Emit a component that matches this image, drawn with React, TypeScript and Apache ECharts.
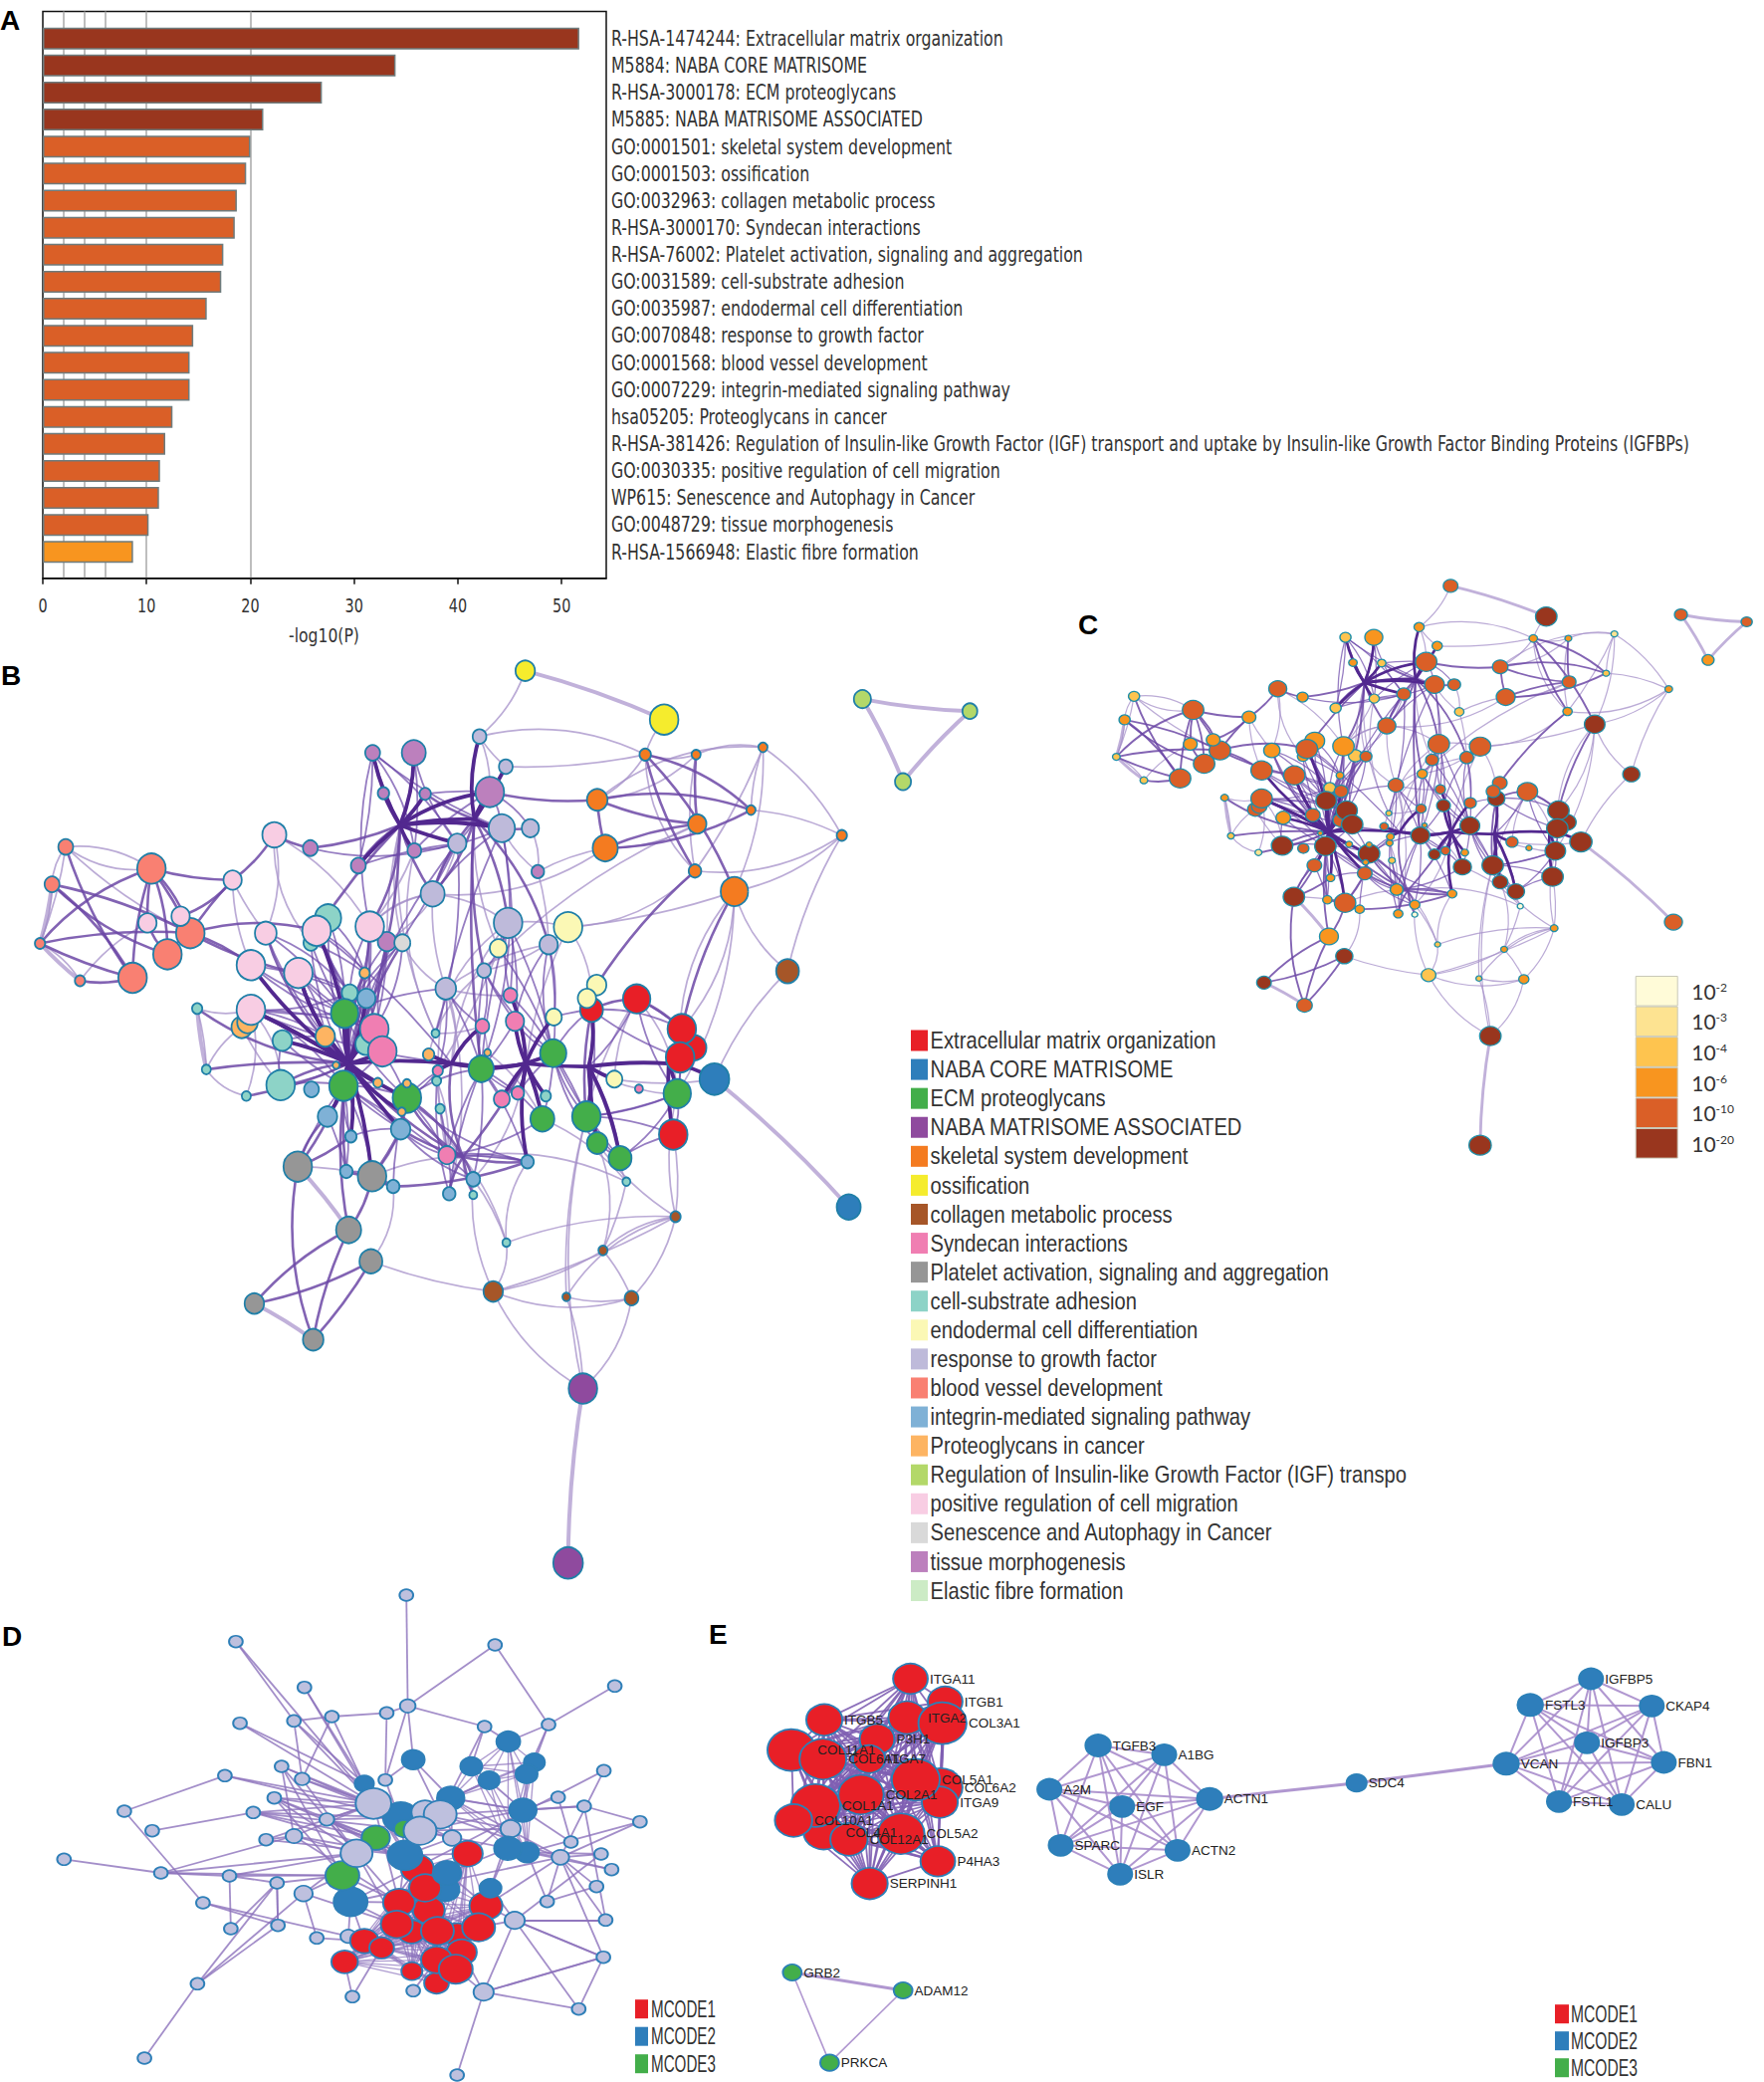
import React, { useEffect, useRef } from "react";
import * as echarts from "echarts";

const W = 1772;
const H = 2091;

// ---------- Panel A ----------
const terms = [
  "R-HSA-1474244: Extracellular matrix organization",
  "M5884: NABA CORE MATRISOME",
  "R-HSA-3000178: ECM proteoglycans",
  "M5885: NABA MATRISOME ASSOCIATED",
  "GO:0001501: skeletal system development",
  "GO:0001503: ossification",
  "GO:0032963: collagen metabolic process",
  "R-HSA-3000170: Syndecan interactions",
  "R-HSA-76002: Platelet activation, signaling and aggregation",
  "GO:0031589: cell-substrate adhesion",
  "GO:0035987: endodermal cell differentiation",
  "GO:0070848: response to growth factor",
  "GO:0001568: blood vessel development",
  "GO:0007229: integrin-mediated signaling pathway",
  "hsa05205: Proteoglycans in cancer",
  "R-HSA-381426: Regulation of Insulin-like Growth Factor (IGF) transport and uptake by Insulin-like Growth Factor Binding Proteins (IGFBPs)",
  "GO:0030335: positive regulation of cell migration",
  "WP615: Senescence and Autophagy in Cancer",
  "GO:0048729: tissue morphogenesis",
  "R-HSA-1566948: Elastic fibre formation",
];
const logP = [51.7, 34.0, 26.9, 21.25, 20.0, 19.6, 18.7, 18.5, 17.4, 17.2, 15.8, 14.5, 14.15, 14.15, 12.5, 11.8, 11.3, 11.2, 10.2, 8.7];
const barPClass = [5, 5, 5, 5, 4, 4, 4, 4, 4, 4, 4, 4, 4, 4, 4, 4, 4, 4, 4, 3];
const gridTicks = [2, 4, 6, 10, 20];
const xTicks = [0, 10, 20, 30, 40, 50];
const xAxisTitle = "-log10(P)";

// ---------- Legends ----------
const clusterNames = [
  "Extracellular matrix organization", "NABA CORE MATRISOME", "ECM proteoglycans", "NABA MATRISOME ASSOCIATED",
  "skeletal system development", "ossification", "collagen metabolic process", "Syndecan interactions",
  "Platelet activation, signaling and aggregation", "cell-substrate adhesion", "endodermal cell differentiation",
  "response to growth factor", "blood vessel development", "integrin-mediated signaling pathway", "Proteoglycans in cancer",
  "Regulation of Insulin-like Growth Factor (IGF) transpo", "positive regulation of cell migration",
  "Senescence and Autophagy in Cancer", "tissue morphogenesis", "Elastic fibre formation",
];
const clusterColors = [
  "#E81F27", "#2E7EBB", "#43AE4A", "#8F4A9E", "#F47B20", "#F5EC2D", "#A65628", "#F07EB2", "#969696", "#8DD3C7",
  "#FBF8B5", "#BEBADA", "#F98072", "#7FB1D6", "#FDB462", "#B3D869", "#F8CDE3", "#D9D9D9", "#BC80BD", "#CCEBC5",
];
const pNames = ["10-2", "10-3", "10-4", "10-6", "10-10", "10-20"];
const pColors = ["#FFFBD8", "#FDE391", "#FEC44F", "#F8951F", "#DA5F27", "#99361E"];
const mcodeNames = ["MCODE1", "MCODE2", "MCODE3"];
const mcodeColors = ["#E81F27", "#2E7EBB", "#43AE4A"];

// ---------- Enrichment network (panels B and C): [x, y, diameter, p-value class] ----------
type N = number[];
const yellowN: N[] = [[919, 39, 34, 4], [1162, 120, 50, 5]];
const lilacN: N[] = [[839, 148, 24, 3], [885, 198, 24, 3], [878, 300, 46, 4], [928, 300, 30, 4], [800, 325, 32, 4], [757, 409, 42, 4], [889, 457, 50, 4], [960, 493, 32, 4], [847, 536, 24, 3], [780, 566, 36, 4]];
const mauveN: N[] = [[652, 175, 26, 2], [724, 175, 42, 3], [671, 242, 20, 3], [744, 243, 20, 2], [857, 240, 50, 4], [543, 333, 26, 3], [725, 337, 24, 2], [627, 362, 26, 2], [941, 372, 22, 2], [677, 488, 32, 2]];
const orangeN: N[] = [[1129, 178, 20, 3], [1218, 178, 16, 3], [1335, 166, 16, 1], [1045, 253, 36, 4], [1314, 270, 16, 2], [1220, 293, 32, 4], [1473, 312, 18, 3], [1059, 333, 44, 4], [1216, 371, 22, 3], [1285, 405, 48, 5]];
const brownN: N[] = [[1378, 537, 40, 5], [1182, 944, 18, 3], [1055, 1000, 16, 3], [863, 1068, 34, 2], [991, 1077, 14, 2], [1105, 1079, 24, 3]];
const tealN: N[] = [[574, 449, 46, 3], [544, 490, 26, 3], [612, 573, 28, 2], [640, 658, 36, 4], [494, 652, 34, 3], [491, 726, 50, 5], [345, 599, 18, 3], [361, 700, 16, 2], [431, 744, 16, 1], [762, 640, 14, 2], [955, 744, 18, 3], [764, 719, 16, 3], [770, 765, 16, 2], [828, 908, 14, 0], [886, 987, 14, 2], [1096, 886, 14, 0]];
const grayLtN: N[] = [[704, 490, 28, 4]];
const redN: N[] = [[1114, 583, 48, 4], [1035, 601, 40, 5], [1215, 664, 42, 5], [1193, 633, 50, 5], [1190, 680, 50, 5], [1178, 808, 50, 5]];
const blueN: N[] = [[1250, 716, 52, 5], [1485, 928, 42, 4]];
const greenN: N[] = [[603, 607, 48, 5], [968, 673, 46, 5], [842, 699, 44, 5], [601, 727, 50, 5], [712, 747, 50, 5], [949, 782, 42, 5], [1026, 778, 50, 5], [1185, 740, 48, 5], [1045, 822, 36, 5], [1085, 847, 40, 5]];
const ltOrangeN: N[] = [[638, 540, 18, 3], [423, 630, 36, 4], [433, 622, 36, 4], [569, 645, 34, 4], [588, 693, 12, 3], [661, 722, 16, 3], [750, 675, 20, 4], [853, 672, 12, 3], [712, 723, 14, 3], [703, 770, 14, 3]];
const ltBlueN: N[] = [[641, 582, 32, 4], [545, 733, 26, 4], [573, 778, 34, 4], [701, 799, 34, 4], [614, 811, 20, 3], [606, 869, 22, 3], [688, 894, 22, 3], [786, 906, 22, 3], [828, 882, 24, 3], [923, 853, 22, 3]];
const syndecanN: N[] = [[655, 633, 50, 5], [669, 670, 50, 5], [893, 577, 24, 4], [901, 620, 32, 5], [844, 628, 24, 4], [766, 702, 18, 3], [878, 749, 28, 5], [906, 739, 22, 4], [782, 842, 30, 3], [1118, 732, 14, 3]];
const paleYellowN: N[] = [[994, 464, 50, 4], [872, 499, 30, 4], [1044, 560, 34, 4], [1027, 582, 32, 4], [969, 613, 28, 4], [1075, 716, 28, 4]];
const salmonN: N[] = [[115, 331, 26, 2], [91, 393, 26, 3], [70, 491, 18, 2], [140, 553, 18, 2], [265, 367, 50, 4], [333, 474, 50, 4], [293, 509, 50, 4], [232, 548, 50, 4]];
const grayN: N[] = [[521, 861, 50, 5], [651, 877, 50, 4], [610, 966, 44, 3], [649, 1018, 40, 5], [445, 1088, 34, 5], [548, 1148, 36, 4]];
const palePinkN: N[] = [[480, 311, 42, 4], [407, 386, 32, 3], [258, 457, 32, 3], [316, 446, 32, 3], [465, 474, 38, 3], [554, 470, 50, 4], [647, 463, 50, 3], [439, 527, 50, 4], [522, 540, 50, 4], [439, 601, 50, 4]];
const purpleN: N[] = [[1020, 1229, 50, 5], [994, 1518, 52, 5]];
const limeN: N[] = [[1509, 86, 30, 4], [1697, 106, 26, 4], [1580, 223, 28, 3]];
const limeOnC = [[1504, 115], [1671, 134], [1573, 235]];
const bundlePoints: N[] = [[610, 690, 0, 0], [920, 690, 0, 0], [700, 295, 0, 0], [1030, 695, 0, 0], [1170, 690, 0, 0], [830, 285, 0, 0], [790, 690, 0, 0], [810, 845, 0, 0]];

const enrichGroups: [string, N[], number][] = [
  ["h", bundlePoints, -1], ["y", yellowN, 5], ["l", lilacN, 11], ["u", mauveN, 18], ["o", orangeN, 4], ["w", brownN, 6],
  ["t", tealN, 9], ["k", grayLtN, 17], ["r", redN, 0], ["b", blueN, 1], ["g", greenN, 2], ["c", ltOrangeN, 14], ["i", ltBlueN, 13],
  ["s", syndecanN, 7], ["e", paleYellowN, 10], ["f", salmonN, 12], ["a", grayN, 8], ["p", palePinkN, 16], ["m", purpleN, 3], ["n", limeN, 15],
];

const enrichThick = [
  "h0 g0 g3 s0 s1 t3 c3 c4 c5 t2 i0 p8 p9 p7 p5 h6 g4 i2 i3 i4 c9 a1 t4 p8 p9",
  "h6 g2 h1 c6 s5 s4",
  "h1 g1 s3 s2 g5 s6 s7 h3 e4 i9 g2 t10",
  "h3 g6 g8 g9 r1 h4 e5 g6",
  "h4 r4 r2 r3 g7 r5 b0 r4",
  "h2 u0 u1 u2 u3 u4 l4 l2 u6 h5 u7",
  "h5 l0 l1 u4 l2",
];
const enrichMid = [
  "h2 h0 l5 p6 p5 u5 u7", "h5 l6 l8 l7 g2 u3 l5", "f5 p7 p8 p5 f4 p3 f6", "f4 f6 f7 f5 p2", "f1 f5 f6 f7", "f0 f7", "f2 f4 f7 f5", "f3 f7",
  "p0 p1 u5", "p1 p3 f5 f4", "p2 f6", "h0 a0 i5 p4 p6 k0 u9 c0", "a0 i4 i2", "a1 i3 i5 i6", "a4 a2 a3", "a5 a0 a3 a2", "a2 a1 h0", "i6 i9",
  "h7 h6 h1 i8 i7 s8 i9 g4 t13", "h7 i3 g4 h0", "o3 o5 o4 o7", "o7 o5 o4", "o0 o9 o8 o4", "o1 o5", "e2 o8", "r0 r1 r3", "r1 g6", "e3 h3 r1", "l3 l2", "l5 h5",
  "u1 h2", "u4 o3", "h0 t6 t7 t8 t5", "h3 g9", "o9 r3",
];
const enrichDense = [
  "p5 g0 s0 c0 t2 h6", "p8 g0 t2 s0 c3", "p9 g0 s0 t2 c3 h6 g3", "p7 g0 t2 s0", "p4 g0 c3 t2", "t4 g3 c3 t5", "t5 g3 h0", "g0 g3 s0 s1 g4",
  "g3 g4 s1 i2 i3 c5 i4 a1 a0", "g4 g2 s1 i3 s5 h6", "g2 g1 s4 s3 s6 s7 g5", "g1 s2 s3 s7 g5 g6 l8 e1 l7", "g6 g1 g8 g9 r5 g7", "g8 g1 g9", "g9 g1 g7 r5",
  "g7 r4 r5 r3 g6", "r1 g1 g6 r4 r3 e4", "r0 r3 g7 h3", "s8 g4 i3 t12 g2 g5 i9", "i8 g2 i3 g3", "i7 g2 s8 s5", "i9 g2 g4 s8", "l4 g0 g3 t9 l5 u5 u7",
  "u0 u7 p6 l4 l2 u6 h2", "u1 u6 l4", "l2 u6 l5 g2 l9 s2 u4", "u4 l4 u6 l3 u3", "l6 g1 s2 s3 e1 l8 g2", "l7 g1 s3 e4", "l8 g2 s4 s3", "l9 g2 s4 s5 g0",
  "p6 g0 s0 i0 t2 k0", "k0 g0 s0", "u9 g0 s0 s1", "i0 g0 g3 s0", "t1 g0 c0 h0", "t0 g0 h0 c0", "i3 g3 g4 i4 a1", "i5 g3 a1 i2", "i6 g4 a1",
];
const enrichThin = [
  "y0 l0", "y1 o0", "l0 o0 l1 u4", "o0 o1 l1 o8 o3", "o1 o8 o3", "o2 o4 o6 o1 o8 o3", "o6 o9 o4 o8 w0", "o2 o9", "o9 w0 e0 r4 g7", "w0 b0", "o9 r3",
  "w1 r5 g7 w2 w3 w4 w5 t14", "w5 w3 w2 w4", "w3 m0 a3 t14 i8 w2", "w5 m0", "m0 w4 g6", "f0 f1 f2 f4", "f2 f3 f1", "f0 f4 f5", "f3 p2", "t6 p9 t7", "t7 t8 c1",
  "t14 h7 i9 i8", "t15 g9 h7 w2", "e0 o8 l8 l6", "o7 l5 u8", "u8 l2 l3 l7", "l5 p6 l6 l9", "l9 h6 s2 l7", "l6 h6 s5 t9", "t9 h2 s4 u6", "e0 h1", "e1 h5",
  "p4 p0 p1", "p0 t1 p6", "p1 p7", "p6 l5 u6", "k0 h2 l9", "u9 h2 l4", "t13 h7", "r0 g6 g7", "e5 b0 r0", "i8 h1", "t12 s5 h7", "t11 s8", "g8 w1 w2", "g6 w4", "g5 t15",
  "i9 a1", "a0 a1", "a3 i6", "l9 i7 s8", "c6 l8", "c7 s4 g5", "t8 p9", "t5 c1 p9", "o5 o7 l8", "e0 r1", "s9 g7 h3",
];
const enrichWideLight = ["y0 y1", "m0 m1", "a4 a5", "f2 f3", "f1 f2", "t6 t7", "b0 b1", "n0 n1", "n0 n2", "n1 n2", "a0 a2", "i6 a1"];

// ---------- Panel D (all genes): [x, y, diameter] ----------
const dLilacSmall: N[] = [[889, 6, 30], [516, 146, 30], [1083, 156, 30], [666, 284, 30], [1345, 280, 30], [892, 340, 34], [846, 361, 30], [726, 372, 30], [643, 385, 30], [525, 392, 30], [1060, 402, 30], [1200, 396, 30], [616, 522, 30], [661, 560, 32], [843, 563, 30], [492, 550, 30], [1321, 535, 30], [600, 617, 30], [1221, 615, 30], [1278, 642, 30], [272, 657, 30], [554, 661, 30], [1400, 689, 30], [333, 716, 30], [715, 682, 32], [643, 732, 36], [582, 743, 30], [1249, 750, 30], [1315, 786, 30], [1226, 796, 38], [140, 802, 30], [1338, 833, 30], [352, 843, 30], [502, 852, 30], [606, 873, 30], [664, 905, 40], [1305, 884, 30], [444, 933, 30], [1197, 929, 30], [1325, 985, 30], [505, 1011, 30], [608, 1001, 30], [693, 1039, 30], [762, 1034, 34], [1320, 1097, 30], [432, 1177, 30], [771, 1216, 30], [904, 1198, 30], [1058, 1202, 44], [1266, 1253, 30], [316, 1401, 30], [1000, 1452, 30], [1117, 710, 44], [989, 738, 40], [1126, 986, 44]];
const dBlueLow: N[] = [[975, 893, 60]];
const dRed: N[] = [[1023, 785, 66], [913, 830, 72], [938, 955, 70], [873, 932, 70], [930, 888, 70], [1063, 942, 72], [900, 1020, 60], [1000, 1030, 60], [868, 998, 70], [1047, 1007, 72], [957, 1018, 72], [797, 1048, 62], [835, 1069, 54], [1010, 1082, 66], [754, 1111, 58], [955, 1175, 54], [955, 1105, 68], [901, 1139, 46], [997, 1133, 74]];
const dBlue: N[] = [[1112, 447, 52], [904, 502, 50], [1031, 522, 48], [1169, 510, 46], [1070, 564, 46], [1152, 545, 48], [797, 574, 42], [986, 618, 60], [877, 676, 78], [1144, 654, 60], [1153, 781, 52], [1111, 769, 60], [886, 790, 76], [978, 843, 62], [1073, 889, 48], [767, 930, 74]];
const dGreen: N[] = [[822, 737, 62], [884, 710, 44], [749, 851, 74]];
const dLilacBig: N[] = [[817, 634, 78], [930, 660, 60], [963, 667, 72], [919, 716, 72], [780, 784, 70]];
const dGroups: [string, N[], string][] = [
  ["L", dLilacSmall, "#BEC0DE"], ["Q", dBlueLow, "#2E7EBB"], ["R", dRed, "#E81F27"], ["B", dBlue, "#2E7EBB"], ["G", dGreen, "#43AE4A"], ["K", dLilacBig, "#BEC0DE"],
];
const dStars = [
  "L0 L5", "L1 L8 K0", "L2 L5 L11", "L3 K0 B6", "L4 L11", "L5 L6 L10 B1 L14", "L6 L7 L14", "L7 L13 K0 L8", "L8 L13 B6 K0", "L9 K0 B6", "L10 B0 B2 K2", "L11 B0 B3 B5",
  "L12 B8 K0 L25", "L13 K0 B8 K4", "L14 B1 R1", "L15 L20 K0 B8", "L16 L29 B15", "L17 K0 K4 B8 B12", "L18 B9 L27", "L19 B9 K2 L22", "L20 L37", "L21 L23 K0 B8 K3", "L22 L29 B10",
  "L24 K4 K0 B8 G0", "L25 L26 L32 K0 K4", "L27 B9", "L28 L29 B10", "L29 B11 R5 B15", "L30 L32", "L31 L29 B11", "L32 L33 G2 K4", "L33 G2 K4 L40 L34", "L34 L41 L45 G2", "L35 G2 L45 K4 R8",
  "L36 L38 L29", "L37 L41 L43", "L38 B10 L29", "L39 L54 L19 L29", "L40 L34", "L41 L34 L45", "L42 L35 R11", "L43 B15 R11", "L44 L54 L48 L49 L29", "L45 L50", "L46 R12 R14", "L47 R16", "L48 L51 L44 L49 R18 R13",
  "L49 L54", "L54 R9 R5 L39 L44 L48 B14 L28", "L52 B9 B14 B11", "L53 R0 B7 B12", "K0 B8 B12 K3 R1 R3", "K2 K3 B7 B8 R0 B12", "K3 B12 G1 R1 B9 B11", "K4 G0 G2 R3 B15 R8", "B12 R0 R3 R4 G0 B8", "G2 B15 K4 R3", "B15 R3 R8 R11",
  "B13 B9 B11 R0 R5", "B7 K1 B4 B9", "B1 B7 K2", "B6 K0 B8", "B14 R5 R9 B11", "L25 B12 R3", "L29 K2 B7", "L52 K2 K3", "L53 K3 K0", "L21 B12 G0", "L12 K4 G2", "L26 K0 B12", "L17 G0 G2", "L24 B12 R1",
];
const dCliques = [
  ["R0", "R1", "R2", "R3", "R4", "R5", "R6", "R7", "R8", "R9", "R10", "R11", "R12", "R13", "R14", "R15", "R16", "R17", "R18"],
  ["B0", "B2", "B3", "B4", "B5", "B7", "B9", "B10", "B11"],
];

// ---------- Panel E (MCODE modules) ----------
const eNames = [
  "ITGA11", "ITGB1", "ITGB5", "ITGA2", "COL3A1", "P3H1", "COL11A1", "COL6A1", "ITGA7", "COL6A2", "ITGA9", "COL5A1", "COL2A1", "COL1A1", "COL10A1", "COL4A1", "COL12A1", "COL5A2", "P4HA3", "SERPINH1",
  "TGFB3", "A1BG", "A2M", "EGF", "ACTN1", "SPARC", "ACTN2", "ISLR", "SDC4", "VCAN", "IGFBP5", "FSTL3", "CKAP4", "IGFBP3", "FBN1", "FSTL1", "CALU",
  "GRB2", "ADAM12", "PRKCA",
];
const eX = [290, 342, 161, 285, 338, 240, 112, 159, 228, 335, 334, 298, 216, 148, 115, 160, 198, 276, 331, 229, 571, 670, 498, 607, 738, 515, 690, 604, 958, 1182, 1309, 1218, 1400, 1303, 1418, 1261, 1355, 113, 279, 169];
const eY = [138, 207, 262, 255, 272, 320, 353, 380, 380, 465, 510, 442, 487, 520, 565, 600, 622, 605, 688, 755, 339, 367, 471, 523, 500, 640, 655, 727, 452, 394, 138, 217, 220, 331, 390, 508, 517, 1023, 1077, 1295];
const eW = [52, 52, 54, 56, 72, 52, 72, 70, 48, 66, 54, 72, 68, 74, 56, 60, 56, 70, 52, 54, 38, 36, 36, 36, 38, 36, 36, 36, 30, 38, 36, 38, 36, 36, 36, 36, 36, 28, 28, 28];
const eOrderBack = [9, 10, 1, 3, 6, 15, 13, 12];
const eMod1 = [0, 1, 2, 3, 4, 5, 6, 7, 8, 9, 10, 11, 12, 13, 14, 15, 16, 17, 18, 19];
const eMod2a = [20, 21, 22, 23, 24, 25, 26, 27];
const eMod2b = [29, 30, 31, 32, 33, 34, 35, 36];
const eExtra = [[24, 28, 3], [28, 29, 3], [37, 38, 3], [37, 39, 1.6], [38, 39, 1.6]];

const thinCurve = [0.14, -0.1, 0.18, -0.08, 0.12, -0.16, 0.06, -0.2];
const midCurve = [0.1, -0.08, 0.14, -0.05, 0.07, -0.12];
const thickCurve = [0.08, -0.1, 0.05, -0.06, 0.12, -0.03];

function buildEnrichNodes() {
  const nodes: any[] = [];
  enrichGroups.forEach(([pre, list, cluster]) => {
    list.forEach((n, i) => nodes.push({ id: pre + i, x: n[0], y: n[1], d: n[2], p: n[3], cluster }));
  });
  return nodes;
}

function buildEnrichLinks(nodes: any[], scale: number) {
  const ix = new Map(nodes.map((n, i) => [n.id, i]));
  const out: any[] = [];
  const add = (stars: string[], color: string, width: number, opacity: number, curves: number[]) => {
    let c = 0;
    stars.forEach((s) => {
      const parts = s.split(" ");
      parts.slice(1).forEach((t) => {
        const a = ix.get(parts[0]);
        const b = ix.get(t);
        if (a === undefined || b === undefined) return;
        out.push({ source: a, target: b, lineStyle: { color, width: width * scale, opacity, curveness: curves[c++ % curves.length] } });
      });
    });
  };
  add(enrichWideLight, "#B6A3D4", 4, 0.85, [0.04, -0.04]);
  add(enrichThin, "#A48FC8", 1.7, 0.75, thinCurve);
  add(enrichDense, "#6A46A8", 1.8, 0.7, midCurve);
  add(enrichMid, "#6C48A6", 2.6, 0.85, midCurve);
  add(enrichThick, "#52288F", 3.8, 1, thickCurve);
  return out;
}

// Legend rows are drawn as swatch + horizontally condensed text, as in the figure.
function legendRows(names: string[], colors: string[], x: number, yFirst: number, step: number, sw: number, sh: number, textX: number, fontSize: number, scaleX: number) {
  const out: any[] = [];
  names.forEach((name, i) => {
    const cy = yFirst + i * step;
    out.push({ type: "rect", shape: { x, y: cy - sh / 2, width: sw, height: sh }, style: { fill: colors[i] } });
    out.push({
      type: "text", x: textX, y: cy, scaleX,
      style: { text: name, fontFamily: "'Liberation Sans', sans-serif", fontSize, fill: "#333", align: "left", verticalAlign: "middle" },
    });
  });
  return out;
}

function App() {
  const ref = useRef<HTMLDivElement>(null);
  useEffect(() => {
    const chart = echarts.init(ref.current!, undefined, { renderer: "svg", width: W, height: H });
    const dejavu = "'DejaVu Sans', sans-serif";

    const grids = [
      { left: 43, top: 11.4, width: 566, height: 569.4, show: true, borderColor: "#111", borderWidth: 1.5, backgroundColor: "transparent" },
      { left: 43, top: 25.1, width: 566, height: 542.8 },
      { left: 0, top: 650, width: 1100, height: 950 },
      { left: 1093.7, top: 573.6, width: 757.8, height: 595.6 },
      { left: 0, top: 1600, width: 720, height: 491 },
      { left: 720, top: 1640, width: 1052, height: 451 },
    ].map((g) => ({ ...g, outerBoundsMode: "none", containLabel: false }));
    const hiddenX = (gridIndex: number, max: number) => ({ gridIndex, type: "value", min: 0, max, show: false });
    const hiddenY = (gridIndex: number, max: number) => ({ gridIndex, type: "value", min: 0, max, inverse: true, show: false });

    const xAxis: any[] = [
      {
        gridIndex: 0, type: "value", min: 0, max: 54.3, interval: 10, position: "bottom",
        axisLine: { show: true, lineStyle: { color: "#111", width: 1.5 } },
        axisTick: { show: true, length: 6, customValues: xTicks, lineStyle: { color: "#111", width: 1.5 } },
        axisLabel: { show: false },
        splitLine: { show: false },
      },
      {
        gridIndex: 0, type: "value", min: 0, max: 54.3, position: "top",
        axisLine: { show: false }, axisLabel: { show: false },
        axisTick: { show: false, customValues: gridTicks },
        splitLine: { show: true, lineStyle: { color: "#A8A8A8", width: 1.5 } },
      },
      hiddenX(1, 54.3),
      hiddenX(2, 1916),
      hiddenX(3, 1916),
      hiddenX(4, 1568),
      hiddenX(5, 1568),
    ];
    const yAxis: any[] = [
      { gridIndex: 0, type: "value", min: 0, max: 1, show: false },
      {
        gridIndex: 1, type: "category", data: terms, inverse: true, position: "right",
        axisLine: { show: false }, axisTick: { show: false }, axisLabel: { show: false },
      },
      hiddenY(2, 1568),
      hiddenY(3, 1568),
      hiddenY(4, 1473),
      hiddenY(5, 1353),
    ];

    const enrichNodes = buildEnrichNodes();

    const bData = enrichNodes.map((n) => ({
      name: n.id,
      value: [n.x, n.y],
      symbolSize: n.d > 0 ? [n.d / 1.742, n.d / 1.65] : 0.1,
      itemStyle: n.cluster >= 0 ? { color: clusterColors[n.cluster], borderColor: "#1F7FA8", borderWidth: 1.8 } : { opacity: 0 },
    }));
    const cData = enrichNodes.map((n) => {
      const li = n.id[0] === "n" ? limeOnC[Number(n.id.slice(1))] : null;
      return {
        name: n.id,
        value: li ? li : [n.x, n.y],
        category: n.cluster >= 0 ? n.p : undefined,
        symbolSize: n.d > 0 ? [n.d * 0.43, n.d * 0.38] : 0.1,
        itemStyle: n.cluster >= 0 ? { color: pColors[n.p], borderColor: "#1F8FA8", borderWidth: 1.3 } : { opacity: 0 },
      };
    });

    const dNodes: any[] = [];
    dGroups.forEach(([pre, list, color]) => list.forEach((n, i) => dNodes.push({ id: pre + i, x: n[0], y: n[1], d: n[2], color })));
    const dIx = new Map(dNodes.map((n, i) => [n.id, i]));
    const dLinks: any[] = [];
    const dAdd = (a: string, b: string, w: number, o: number) => {
      const s = dIx.get(a);
      const t = dIx.get(b);
      if (s === undefined || t === undefined) return;
      dLinks.push({ source: s, target: t, lineStyle: { color: "#8C72BC", width: w, opacity: o, curveness: 0 } });
    };
    dStars.forEach((s) => {
      const p = s.split(" ");
      p.slice(1).forEach((t) => dAdd(p[0], t, 1.8, 0.8));
    });
    dCliques.forEach((c) => c.forEach((a, i) => c.slice(i + 1).forEach((b) => dAdd(a, b, 1.4, 0.7))));

    const dData = dNodes.map((n) => ({
      name: n.id,
      value: [n.x, n.y],
      symbolSize: [n.d / 2.178, n.d / 2.55],
      itemStyle: { color: n.color, borderColor: "#2E7FB8", borderWidth: 1.8 },
    }));

    const eOrder = [...eOrderBack, ...eNames.map((_, i) => i).filter((i) => !eOrderBack.includes(i))];
    const eData = eOrder.map((i) => {
      const group = i < 20 ? 0 : i < 37 ? 1 : 2;
      return {
        name: eNames[i],
        value: [eX[i], eY[i]],
        symbolSize: [eW[i] * 0.671, eW[i] * 0.583],
        itemStyle: { color: mcodeColors[group], borderColor: "#2B80B8", borderWidth: 1.8 },
      };
    });
    const ePos = new Map(eOrder.map((orig, pos) => [orig, pos]));
    const eLinks: any[] = [];
    const eLink = (a: number, b: number, w: number, color: string) =>
      eLinks.push({ source: ePos.get(a), target: ePos.get(b), lineStyle: { color, width: w, opacity: 0.9, curveness: 0 } });
    eMod1.forEach((a, i) => eMod1.slice(i + 1).forEach((b) => eLink(a, b, 1.8, "#7F5FB2")));
    [eMod2a, eMod2b].forEach((m) => m.forEach((a, i) => m.slice(i + 1).forEach((b) => eLink(a, b, 2, "#A78CCB"))));
    eExtra.forEach(([a, b, w]) => eLink(a, b, w, "#A78CCB"));

    const graphBase = { type: "graph", coordinateSystem: "cartesian2d", layout: "none", silent: true, roam: false, symbol: "circle", emphasis: { disabled: true } };

    const letter = (text: string, x: number, y: number) => ({
      type: "text", x, y,
      style: { text, fontFamily: "'Liberation Sans', sans-serif", fontWeight: "bold", fontSize: 28, fill: "#000", verticalAlign: "middle" },
    });

    chart.setOption({
      animation: false,
      backgroundColor: "#fff",
      grid: grids,
      xAxis,
      yAxis,
      legend: [
        {
          show: true, data: pNames, orient: "vertical", left: 1642.7, top: 980, padding: 0, itemWidth: 42, itemHeight: 29.6, itemGap: 0,
          icon: "rect", selectedMode: false, itemStyle: { borderColor: "#C8C8B8", borderWidth: 1 },
          formatter: (name: string) => `{a|10}{b|${name.slice(2)}}`,
          textStyle: {
            rich: {
              a: { fontFamily: "Lato, sans-serif", fontSize: 21, color: "#333", padding: [0, 0, 0, 9] },
              b: { fontFamily: "Lato, sans-serif", fontSize: 12, color: "#333", padding: [0, 0, 8, 0] },
            },
          },
        },
      ],
      graphic: [
        letter("A", 0, 20), letter("B", 1, 678), letter("C", 1083, 627), letter("D", 2, 1643), letter("E", 712, 1641),
        ...legendRows(clusterNames, clusterColors, 915, 1045, 29.08, 17, 21, 934.6, 24, 0.84),
        ...legendRows(mcodeNames, mcodeColors, 638, 2017.7, 27.5, 13, 19, 654, 23, 0.66),
        ...legendRows(mcodeNames, mcodeColors, 1562, 2022.7, 27, 14, 19, 1578, 23, 0.68),
      ],
      series: [
        {
          type: "bar", xAxisIndex: 2, yAxisIndex: 1, barWidth: 22, silent: true,
          data: logP.map((v, i) => ({ value: v, itemStyle: { color: pColors[barPClass[i]], borderColor: "#6E7B7C", borderWidth: 1.5 } })),
        },
        {
          type: "custom", xAxisIndex: 2, yAxisIndex: 1, silent: true, clip: false,
          data: terms.map((_, i) => [54.3, i]),
          renderItem: (params: any, api: any) => {
            const p = api.coord([api.value(0), api.value(1)]);
            return { type: "text", x: p[0] + 5, y: p[1], scaleX: 0.77, style: { text: terms[params.dataIndex], fontFamily: dejavu, fontSize: 20.5, fill: "#333", align: "left", verticalAlign: "middle" } };
          },
        },
        {
          type: "custom", xAxisIndex: 0, yAxisIndex: 0, silent: true, clip: false,
          data: xTicks.map((v) => [v, 0]),
          renderItem: (params: any, api: any) => {
            const p = api.coord([api.value(0), 0]);
            return { type: "text", x: p[0], y: p[1] + 27, scaleX: 0.72, style: { text: String(xTicks[params.dataIndex]), fontFamily: dejavu, fontSize: 20, fill: "#333", align: "center", verticalAlign: "middle" } };
          },
        },
        {
          type: "custom", xAxisIndex: 0, yAxisIndex: 0, silent: true, clip: false,
          data: [[27.1, 0]],
          renderItem: (params: any, api: any) => {
            const p = api.coord([api.value(0), 0]);
            return { type: "text", x: p[0], y: p[1] + 57, scaleX: 0.78, style: { text: xAxisTitle, fontFamily: dejavu, fontSize: 20, fill: "#333", align: "center", verticalAlign: "middle" } };
          },
        },
        { ...graphBase, xAxisIndex: 3, yAxisIndex: 2, data: bData, links: buildEnrichLinks(enrichNodes, 1) },
        {
          ...graphBase, xAxisIndex: 4, yAxisIndex: 3,
          categories: pNames.map((name, i) => ({ name, itemStyle: { color: pColors[i] } })),
          data: cData, links: buildEnrichLinks(enrichNodes, 0.72),
        },
        { ...graphBase, xAxisIndex: 5, yAxisIndex: 4, data: dData, links: dLinks },
        {
          ...graphBase, xAxisIndex: 6, yAxisIndex: 5,
          data: eData, links: eLinks,
          label: { show: true, position: "right", distance: 1, formatter: "{b}", color: "#222", fontSize: 13.5, fontFamily: "'Liberation Sans', sans-serif" },
        },
      ],
    });
    return () => chart.dispose();
  }, []);
  return <div ref={ref} style={{ position: "absolute", left: 0, top: 0, width: W, height: H }} />;
}

export default App;
